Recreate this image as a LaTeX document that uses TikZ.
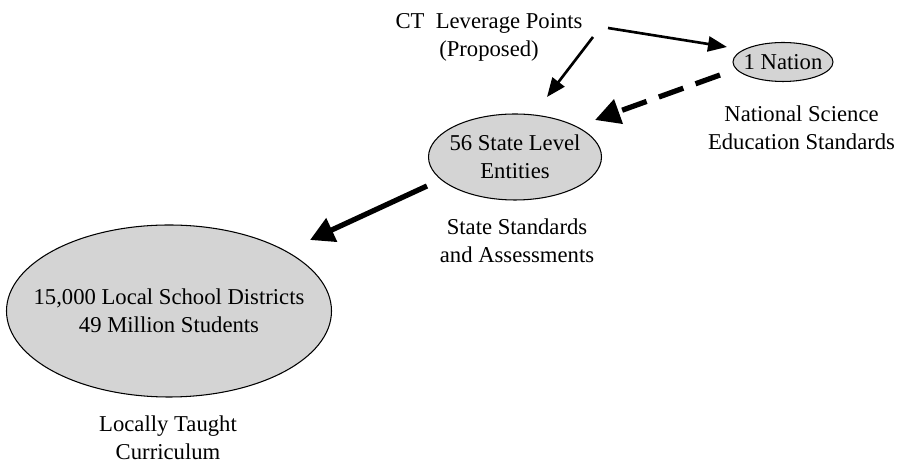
\documentclass[tikz,border=0pt]{standalone}
\usepackage{fontspec}
\setmainfont{Liberation Serif}
\usetikzlibrary{arrows.meta,shapes.geometric}
\definecolor{blobgray}{RGB}{212,212,212}
\tikzset{
  blob/.style={ellipse,draw,fill=blobgray,line width=0.6pt,inner sep=0pt},
  lever/.style={-{Triangle[length=0.38cm,width=0.3cm]},line width=1.5pt},
  push/.style={-{Triangle[length=0.48cm,width=0.5cm]},line width=3pt},
  hint/.style={-{Triangle[length=0.5cm,width=0.5cm]},line width=3pt,
    dash pattern=on 0.52cm off 0.26cm}
}
\begin{document}
\begin{tikzpicture}[font=\fontsize{12.9}{15.9}\selectfont]
  \useasboundingbox (0,0) rectangle (18.04,9.30);

  % ellipses
  \node[blob,minimum width=6.5cm,minimum height=3.44cm] (local) at (3.38,3.08) {};
  \node[blob,minimum width=3.46cm,minimum height=1.72cm] (state) at (10.30,6.16) {};
  \node[blob,minimum width=2.0cm,minimum height=0.78cm] (nation) at (15.66,8.06) {};
  \node[align=center] (localtxt) at (local) {15,000 Local School Districts\\49 Million Students};
  \node[align=center] (statetxt) at (state) {56 State Level\\Entities};
  \node (nationtxt) at (nation) {1 Nation};

  % captions
  \node[align=center] (ct) at (9.78,8.55) {CT\ \ Leverage Points\\(Proposed)};
  \node[align=center] (localcap) at (3.36,0.54) {Locally Taught\\Curriculum};
  \node[align=center] (statecap) at (10.34,4.48) {State Standards\\and Assessments};
  \node[align=center] (nationcap) at (16.03,6.74) {National Science\\Education Standards};

  % arrow ends
  \coordinate (ctR) at (12.16,8.74); \coordinate (nationIn) at (14.54,8.36);
  \coordinate (ctD) at (11.86,8.56); \coordinate (stateIn) at (10.94,7.36);
  \coordinate (nationOut) at (14.40,7.80); \coordinate (stateIn2) at (11.90,6.90);
  \coordinate (stateOut) at (8.54,5.58); \coordinate (localIn) at (6.20,4.50);

  \draw[lever] (ctR) -- (nationIn);
  \draw[lever] (ctD) -- (stateIn);
  \draw[hint] (nationOut) -- (stateIn2);
  \draw[push] (stateOut) -- (localIn);
\end{tikzpicture}
\end{document}
